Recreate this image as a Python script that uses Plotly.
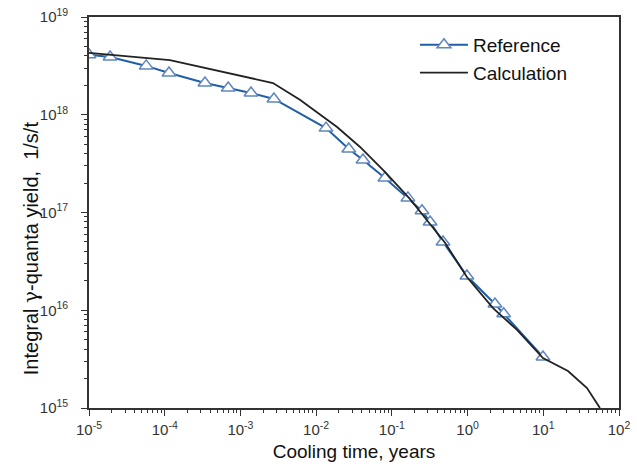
import plotly.graph_objects as go

# Reference data: cooling time (years) vs integral gamma-quanta yield (1/s/t)
ref_time = [1.0e-5, 1.9e-5, 5.7e-5, 1.14e-4, 3.4e-4, 6.9e-4, 1.38e-3, 2.77e-3,
            1.35e-2, 2.7e-2, 4.16e-2, 8.1e-2, 0.163, 0.25, 0.32, 0.474,
            0.98, 2.3, 3.0, 9.9]
ref_yield = [4.1e18, 3.9e18, 3.16e18, 2.67e18, 2.11e18, 1.88e18, 1.67e18, 1.45e18,
             7.3e17, 4.46e17, 3.45e17, 2.25e17, 1.41e17, 1.04e17, 8.0e16, 5.0e16,
             2.24e16, 1.16e16, 9.2e15, 3.33e15]

# Calculated curve
calc_time = [1.0e-5, 1.17e-4, 2.69e-3, 6.1e-3, 1.89e-2, 3.8e-2, 8.1e-2, 0.174,
             0.30, 0.504, 0.98, 2.17, 4.5, 9.9, 21.2, 37.8, 56.0]
calc_yield = [4.29e18, 3.63e18, 2.11e18, 1.42e18, 7.5e17, 4.68e17, 2.6e17, 1.37e17,
              8.1e16, 4.9e16, 2.19e16, 1.05e16, 6.3e15, 3.24e15, 2.39e15, 1.6e15, 1.0e15]

# Decade tick labels
x_exp = [-5, -4, -3, -2, -1, 0, 1, 2]
y_exp = [15, 16, 17, 18, 19]
x_ticks = [10.0 ** e for e in x_exp]
y_ticks = [10.0 ** e for e in y_exp]
x_labels = [f"10<sup>{e}</sup>" for e in x_exp]
y_labels = [f"10<sup>{e}</sup>" for e in y_exp]

FONT = "Liberation Sans, Arial, sans-serif"

fig = go.Figure()
fig.add_trace(go.Scatter(
    x=ref_time, y=ref_yield, mode="lines+markers", name="Reference",
    line=dict(color="#1f5fa6", width=2),
    marker=dict(symbol="triangle-up", size=12, color="white",
                line=dict(color="#5f86bf", width=1.5)),
))
fig.add_trace(go.Scatter(
    x=calc_time, y=calc_yield, mode="lines", name="Calculation",
    line=dict(color="#222222", width=1.8),
))

axis_common = dict(
    type="log", showgrid=False, zeroline=False, automargin=False,
    showline=True, linecolor="#333333", linewidth=1.6, mirror=True,
    ticks="outside", ticklen=6, tickwidth=1.3, tickcolor="#333333",
    tickfont=dict(family=FONT, size=15, color="#333333"),
    minor=dict(ticks="outside", ticklen=3.5, tickwidth=1.1, tickcolor="#333333",
               dtick="D1", showgrid=False),
)

fig.update_xaxes(
    range=[-5, 2], tickvals=x_ticks, ticktext=x_labels,
    ticklabelstandoff=1,
    title=dict(text="Cooling time, years", standoff=8,
               font=dict(family=FONT, size=19, color="#111111")),
    **axis_common,
)
fig.update_yaxes(
    range=[15, 19], tickvals=y_ticks, ticktext=y_labels,
    ticklabelstandoff=10,
    **axis_common,
)

# Vertical axis title placed as a rotated annotation
fig.add_annotation(
    text="Integral <span style='font-family:DejaVu Serif'>γ</span>-quanta yield,&nbsp; 1/s/t",
    xref="paper", yref="paper", x=-0.108, y=0.408,
    xanchor="center", yanchor="middle", textangle=-90, showarrow=False,
    font=dict(family=FONT, size=20, color="#111111"),
)

fig.update_layout(
    width=637, height=466,
    margin=dict(l=89, r=18, t=17, b=58, autoexpand=False),
    paper_bgcolor="white", plot_bgcolor="white",
    legend=dict(x=0.615, y=0.977, xanchor="left", yanchor="top",
                bgcolor="rgba(0,0,0,0)",
                font=dict(family=FONT, size=19, color="#111111"),
                tracegroupgap=0, itemwidth=48),
    showlegend=True,
)

fig.write_html("out.html")
